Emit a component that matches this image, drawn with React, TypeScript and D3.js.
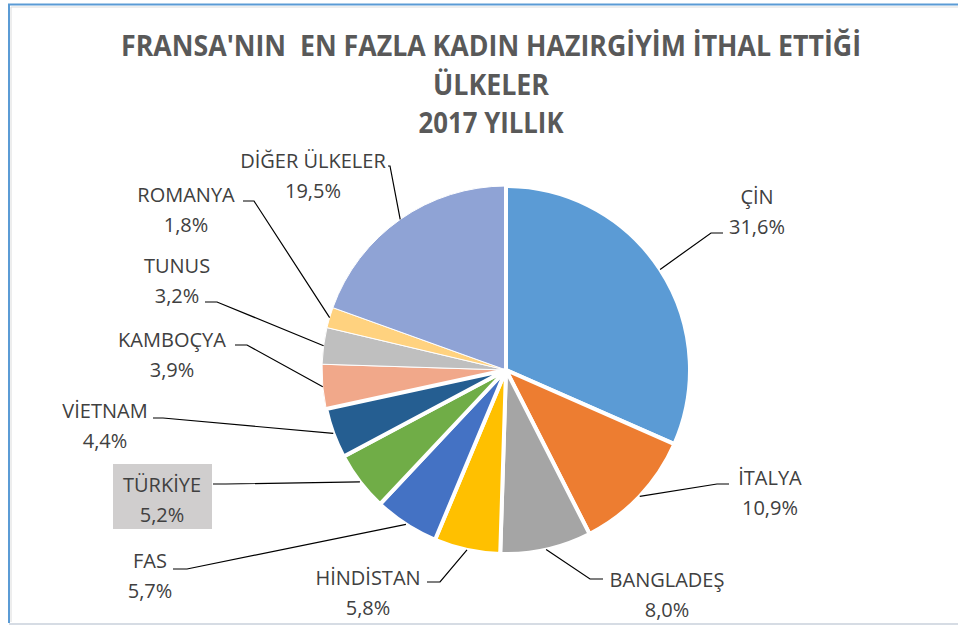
import React from "react";
import * as d3 from "d3";

const countries = ["ÇİN", "İTALYA", "BANGLADEŞ", "HİNDİSTAN", "FAS", "TÜRKİYE", "VİETNAM", "KAMBOÇYA", "TUNUS", "ROMANYA", "DİĞER ÜLKELER"];
const shares = [31.6, 10.9, 8.0, 5.8, 5.7, 5.2, 4.4, 3.9, 3.2, 1.8, 19.5];
const colors = ["#5B9BD5", "#ED7D31", "#A5A5A5", "#FFC000", "#4472C4", "#70AD47", "#255E91", "#F1A88A", "#BFBFBF", "#FFD27F", "#8FA3D5"];
const titleLines = ["FRANSA'NIN  EN FAZLA KADIN HAZIRGİYİM İTHAL ETTİĞİ", "ÜLKELER", "2017 YILLIK"];
const titleWidths = [740, 116, 145];

// label layout: text centre x, first line centre y, leader knee and end
const labelLayout = [
  { x: 757, y: 197, knee: [711, 233], end: [723, 233] },
  { x: 770, y: 478, knee: [717, 484], end: [729, 484] },
  { x: 667, y: 580, knee: [590, 579], end: [603, 579] },
  { x: 368, y: 578, knee: [440, 582], end: [427, 582] },
  { x: 150, y: 561, knee: [187, 569], end: [173, 569] },
  { x: 162, y: 485, knee: [226, 484], end: [213, 484] },
  { x: 105, y: 411, knee: [163, 418], end: [153, 418] },
  { x: 172, y: 340, knee: [247, 345], end: [235, 345] },
  { x: 177, y: 266, knee: [217, 302], end: [205, 302] },
  { x: 186, y: 195, knee: [254, 201], end: [243, 201] },
  { x: 313, y: 161, knee: [390, 166], end: [388, 166] },
];
const highlighted = [5];
const thickBorder = [0, 1, 2, 3, 4, 5, 6];

const W = 958;
const H = 626;
const cx = 506;
const cy = 370;
const R = 184;
const lineGap = 30;
const fmt = (v: number) => v.toFixed(1).replace(".", ",") + "%";

export default function App() {
  const pie = d3.pie<number>().sort(null).value((d) => d)(shares);
  const arc = d3.arc<d3.PieArcDatum<number>>().innerRadius(0).outerRadius(R);
  const order = d3.range(shares.length).sort((a, b) => (thickBorder.includes(a) ? 1 : 0) - (thickBorder.includes(b) ? 1 : 0));
  const font = "'Open Sans', sans-serif";

  return (
    <svg width={W} height={H} style={{ position: "absolute", left: 0, top: 0, background: "#fff" }}>
      <rect x={0} y={0} width={W} height={H} fill="#fff" />
      {/* frame */}
      <line x1={11} y1={7} x2={W} y2={7} stroke="#DCDCDC" strokeWidth={1} />
      <line x1={11} y1={7} x2={11} y2={622} stroke="#DCDCDC" strokeWidth={1} />
      <line x1={8} y1={4.5} x2={W} y2={4.5} stroke="#5B9BD5" strokeWidth={2} />
      <line x1={9} y1={4} x2={9} y2={623} stroke="#5B9BD5" strokeWidth={2} />
      <line x1={9} y1={624} x2={W} y2={624} stroke="#D6DCE4" strokeWidth={2} />

      {titleLines.map((t, i) => (
        <text key={i} x={491} y={56 + i * 38.5} textAnchor="middle" fontFamily={font} fontWeight="bold" fontSize={28} fill="#595959" textLength={titleWidths[i]} lengthAdjust="spacingAndGlyphs" style={{ whiteSpace: "pre" }} xmlSpace="preserve">
          {t}
        </text>
      ))}

      <g transform={`translate(${cx},${cy})`}>
        {order.map((i) => (
          <path key={i} d={arc(pie[i]) || ""} fill={colors[i]} stroke="#fff" strokeWidth={thickBorder.includes(i) ? 4 : 1} strokeLinejoin="round" />
        ))}
      </g>

      {pie.map((p, i) => {
        const a = (p.startAngle + p.endAngle) / 2;
        const sx = cx + R * Math.sin(a);
        const sy = cy - R * Math.cos(a);
        const L = labelLayout[i];
        return (
          <polyline key={i} points={`${sx},${sy} ${L.knee[0]},${L.knee[1]} ${L.end[0]},${L.end[1]}`} fill="none" stroke="#000" strokeWidth={1.2} />
        );
      })}

      {highlighted.map((i) => (
        <rect key={i} x={113} y={464} width={99} height={65} fill="#D0CECE" />
      ))}

      {countries.map((c, i) => {
        const L = labelLayout[i];
        return (
          <g key={c} fontFamily={font} fontSize={20} fill="#404040" textAnchor="middle">
            <text x={L.x} y={L.y + 7}>{c}</text>
            <text x={L.x} y={L.y + 7 + lineGap}>{fmt(shares[i])}</text>
          </g>
        );
      })}
    </svg>
  );
}
